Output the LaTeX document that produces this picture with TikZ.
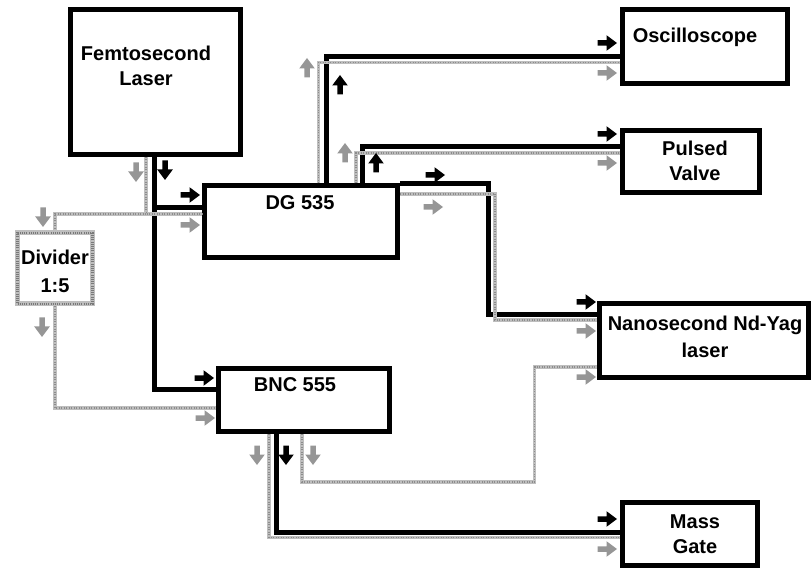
\documentclass[tikz,border=0pt]{standalone}
\usepackage{fontspec}
\setmainfont{Liberation Sans}
\usetikzlibrary{arrows.meta}
\definecolor{glight}{RGB}{190,190,190}
\definecolor{gdark}{RGB}{120,120,120}
\definecolor{garrow}{RGB}{150,150,150}
\tikzset{
 box/.style={draw=black, line width=5pt, rectangle, inner sep=0pt},
 gbox/.style={draw=glight, line width=5pt, rectangle, inner sep=0pt,
   postaction={draw=gdark, line width=2.5pt, dash pattern=on 1pt off 1.2pt}},
 lbl/.style={font=\bfseries\fontsize{20}{25}\selectfont, align=center, inner sep=0pt},
 bline/.style={draw=black, line width=5pt},
 gline/.style={draw=glight, line width=3.5pt,
   postaction={draw=gdark!85, line width=1.4pt, dash pattern=on 1pt off 1.5pt}},
 barr/.style={fill=black},
 garr/.style={fill=garrow},
}
% arrow marker: style, x, y, angle (0 right, 90 up, -90 down)
\newcommand\myArr[4]{\path[#1, shift={(#2,#3)}, rotate=#4]
  (-9.5,-2.75) -- (-0.5,-2.75) -- (-0.5,-7.8) -- (10,0) -- (-0.5,7.8) -- (-0.5,2.75) -- (-9.5,2.75) -- cycle;}
\begin{document}
\begin{tikzpicture}[x=1pt, y=-1pt]
\useasboundingbox (0,0) rectangle (812,572);

% boxes
\node[box, minimum width=170pt, minimum height=145pt] (femto) at (155.5,82) {};
\node[box, minimum width=193pt, minimum height=72pt] (dg) at (301,222) {};
\node[gbox, minimum width=75pt, minimum height=71pt] (div) at (55,268.5) {};
\node[box, minimum width=171.5pt, minimum height=63.5pt] (bnc) at (304,400) {};
\node[box, minimum width=165pt, minimum height=73.5pt] (osc) at (705,46.7) {};
\node[box, minimum width=137.5pt, minimum height=62pt] (pv) at (691,161.5) {};
\node[box, minimum width=209pt, minimum height=74pt] (nd) at (703.5,340.5) {};
\node[box, minimum width=135pt, minimum height=62.5pt] (mg) at (690,534) {};

% labels
\node[lbl] (tfemto) at (146,65.5) {Femtosecond\\Laser};
\node[lbl] (tdg) at (300,203) {DG 535};
\node[lbl, font=\bfseries\fontsize{20}{28}\selectfont] (tdiv) at (55,271) {Divider\\1:5};
\node[lbl] (tbnc) at (295,385) {BNC 555};
\node[lbl] (tosc) at (695,37) {Oscilloscope};
\node[lbl] (tpv) at (695,160.5) {Pulsed\\Valve};
\node[lbl, font=\bfseries\fontsize{20}{27}\selectfont] (tnd) at (705,336.5) {Nanosecond Nd-Yag\\laser};
\node[lbl] (tmg) at (695,534) {Mass\\Gate};

% junction coordinates
\coordinate (kA) at (154,208);
\coordinate (kB) at (154,389);
\coordinate (k1) at (326,57);
\coordinate (k2) at (362.5,147);
\coordinate (k3) at (488,315);
\coordinate (k5) at (276.5,532);
\coordinate (g1) at (146,214);
\coordinate (g2) at (55,214);
\coordinate (g3) at (55,408);
\coordinate (g4) at (318.5,62.5);
\coordinate (g5) at (356,153);
\coordinate (g6) at (495,194);
\coordinate (g7) at (495,320);
\coordinate (g8) at (269,537.5);
\coordinate (g9) at (302,482);
\coordinate (g10) at (534.5,482);
\coordinate (g11) at (534.5,367);

% black connectors
\draw[bline] (femto.south -| kA) -- (kA) -- (dg.west |- kA);
\draw[bline] (kA) -- (kB) -- (bnc.west |- kB);
\draw[bline] (dg.north -| k1) -- (k1) -- (osc.west |- k1);
\draw[bline] (dg.north -| k2) -- (k2) -- (pv.west |- k2);
\draw[bline] (dg.north east) -| (k3) -- (nd.west |- k3);
\draw[bline] (bnc.south -| k5) -- (k5) -- (mg.west |- k5);

% gray connectors
\draw[gline] (femto.south -| g1) -- (g1) -- (dg.west |- g1);
\draw[gline] (g1) -- (g2) -- (div.north);
\draw[gline] (div.south) -- (g3) -- (bnc.west |- g3);
\draw[gline] (dg.north -| g4) -- (g4) -- (osc.west |- g4);
\draw[gline] (dg.north -| g5) -- (g5) -- (pv.west |- g5);
\draw[gline] (dg.east |- g6) -- (g6) -- (g7) -- (nd.west |- g7);
\draw[gline] (bnc.south -| g8) -- (g8) -- (mg.west |- g8);
\draw[gline] (bnc.south -| g9) -- (g9) -- (g10) -- (g11) -- (nd.west |- g11);

% black arrow markers
\myArr{barr}{165}{170}{-90}
\myArr{barr}{190}{195}{0}
\myArr{barr}{204}{378}{0}
\myArr{barr}{340}{85}{90}
\myArr{barr}{607}{43}{0}
\myArr{barr}{376}{163}{90}
\myArr{barr}{607}{134}{0}
\myArr{barr}{435}{175}{0}
\myArr{barr}{586}{302}{0}
\myArr{barr}{286}{455}{-90}
\myArr{barr}{607}{519}{0}

% gray arrow markers
\myArr{garr}{136}{172}{-90}
\myArr{garr}{43}{217}{-90}
\myArr{garr}{190}{225}{0}
\myArr{garr}{42}{327}{-90}
\myArr{garr}{205}{418}{0}
\myArr{garr}{307}{68}{90}
\myArr{garr}{607}{73}{0}
\myArr{garr}{345}{153}{90}
\myArr{garr}{607}{163}{0}
\myArr{garr}{433}{207}{0}
\myArr{garr}{586}{331}{0}
\myArr{garr}{257}{455}{-90}
\myArr{garr}{607}{549}{0}
\myArr{garr}{313}{455}{-90}
\myArr{garr}{586}{377}{0}
\end{tikzpicture}
\end{document}
